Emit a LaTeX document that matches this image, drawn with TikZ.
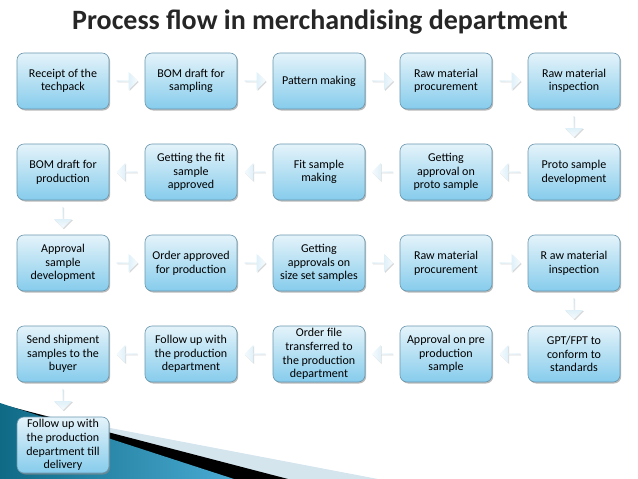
\documentclass[tikz,border=0pt]{standalone}
\usepackage{fontspec}
\setmainfont{Carlito}
\usepackage{tikz}
\usetikzlibrary{calc,shapes.arrows,shadows}
\definecolor{boxtop}{HTML}{E4F3FA}
\definecolor{boxbottom}{HTML}{86CCEC}
\definecolor{boxline}{HTML}{6A97AE}
\definecolor{arrowtail}{HTML}{C3E3F2}
\definecolor{arrowhead}{HTML}{F5FBFE}
\definecolor{titlegray}{HTML}{262626}
\definecolor{swooshgray}{HTML}{D5E5EE}
\definecolor{tealdark}{HTML}{0F6A86}
\definecolor{teallight}{HTML}{4AAAD2}
\tikzset{
	stepbox/.style={rounded corners=7pt, draw=boxline, line width=0.6pt, top color=boxtop, bottom color=boxbottom,
		minimum width=92pt, minimum height=56pt, inner sep=2pt, align=center, font=\fontsize{12}{13.6}\selectfont,
		drop shadow={shadow xshift=1.2pt, shadow yshift=-1.5pt, fill=black!45, opacity=0.6}},
	flowarrow/.style={single arrow, single arrow head extend=4pt, minimum width=18pt, minimum height=21pt,
		inner sep=0pt, draw=none, drop shadow={shadow xshift=0.8pt, shadow yshift=-1pt, fill=black!30, opacity=0.5}},
	rightarrow/.style={flowarrow, left color=arrowtail, right color=arrowhead},
	leftarrow/.style={flowarrow, shape border rotate=180, left color=arrowhead, right color=arrowtail},
	downarrow/.style={flowarrow, shape border rotate=270, top color=arrowtail, bottom color=arrowhead},
}
\begin{document}
\begin{tikzpicture}[x=1pt, y=-1pt]
			%%%%% START %%%%%
			\useasboundingbox (0, 0) rectangle (638, 479);
			
			\fill[swooshgray] (0, 407) -- (378, 479) -- (0, 479) -- cycle;
			\fill[black] (0, 404) -- (288, 479) -- (0, 479) -- cycle;
			\shade[left color=tealdark, right color=teallight] (0, 403) -- (234, 479) -- (0, 479) -- cycle;
			
			\node[font=\fontsize{28}{30}\selectfont\bfseries, text=titlegray, anchor=base] (title) at (320, 30) {Process flow in merchandising department};
			
			\node[stepbox] (receipt) at (63, 81) {Receipt of the\\techpack};
			\node[stepbox] (bomsample) at (191, 81) {BOM draft for\\sampling};
			\node[stepbox] (pattern) at (319, 81) {Pattern making};
			\node[stepbox] (rawproc) at (446, 81) {Raw material\\procurement};
			\node[stepbox] (rawinsp) at (574, 81) {Raw material\\inspection};
			
			\node[stepbox] (bomprod) at (63, 172) {BOM draft for\\production};
			\node[stepbox] (fitappr) at (191, 172) {Getting the fit\\sample\\approved};
			\node[stepbox] (fitmake) at (319, 172) {Fit sample\\making};
			\node[stepbox] (protoappr) at (446, 172) {Getting\\approval on\\proto sample};
			\node[stepbox] (protodev) at (574, 172) {Proto sample\\development};
			
			\node[stepbox] (apprdev) at (63, 263) {Approval\\sample\\development};
			\node[stepbox] (orderappr) at (191, 263) {Order approved\\for production};
			\node[stepbox] (sizeset) at (319, 263) {Getting\\approvals on\\size set samples};
			\node[stepbox] (rawproctwo) at (446, 263) {Raw material\\procurement};
			\node[stepbox] (rawinsptwo) at (574, 263) {R aw material\\inspection};
			
			\node[stepbox] (shipment) at (63, 354) {Send shipment\\samples to the\\buyer};
			\node[stepbox] (followup) at (191, 354) {Follow up with\\the production\\department};
			\node[stepbox] (orderfile) at (319, 354) {Order file\\transferred to\\the production\\department};
			\node[stepbox] (preprod) at (446, 354) {Approval on pre\\production\\sample};
			\node[stepbox] (gptfpt) at (574, 354) {GPT/FPT to\\conform to\\standards};
			
			\node[stepbox] (delivery) at (63, 445) {Follow up with\\the production\\department till\\delivery};
			
			\node[rightarrow] (a1) at ($(receipt)!0.5!(bomsample)$) {};
			\node[rightarrow] (a2) at ($(bomsample)!0.5!(pattern)$) {};
			\node[rightarrow] (a3) at ($(pattern)!0.5!(rawproc)$) {};
			\node[rightarrow] (a4) at ($(rawproc)!0.5!(rawinsp)$) {};
			\node[downarrow] (a5) at ($(rawinsp)!0.5!(protodev)$) {};
			\node[leftarrow] (a6) at ($(protodev)!0.5!(protoappr)$) {};
			\node[leftarrow] (a7) at ($(protoappr)!0.5!(fitmake)$) {};
			\node[leftarrow] (a8) at ($(fitmake)!0.5!(fitappr)$) {};
			\node[leftarrow] (a9) at ($(fitappr)!0.5!(bomprod)$) {};
			\node[downarrow] (a10) at ($(bomprod)!0.5!(apprdev)$) {};
			\node[rightarrow] (a11) at ($(apprdev)!0.5!(orderappr)$) {};
			\node[rightarrow] (a12) at ($(orderappr)!0.5!(sizeset)$) {};
			\node[rightarrow] (a13) at ($(sizeset)!0.5!(rawproctwo)$) {};
			\node[rightarrow] (a14) at ($(rawproctwo)!0.5!(rawinsptwo)$) {};
			\node[downarrow] (a15) at ($(rawinsptwo)!0.5!(gptfpt)$) {};
			\node[leftarrow] (a16) at ($(gptfpt)!0.5!(preprod)$) {};
			\node[leftarrow] (a17) at ($(preprod)!0.5!(orderfile)$) {};
			\node[leftarrow] (a18) at ($(orderfile)!0.5!(followup)$) {};
			\node[leftarrow] (a19) at ($(followup)!0.5!(shipment)$) {};
			\node[downarrow] (a20) at ($(shipment)!0.5!(delivery)$) {};
			
			%%%%% END %%%%%
\end{tikzpicture}
\end{document}
